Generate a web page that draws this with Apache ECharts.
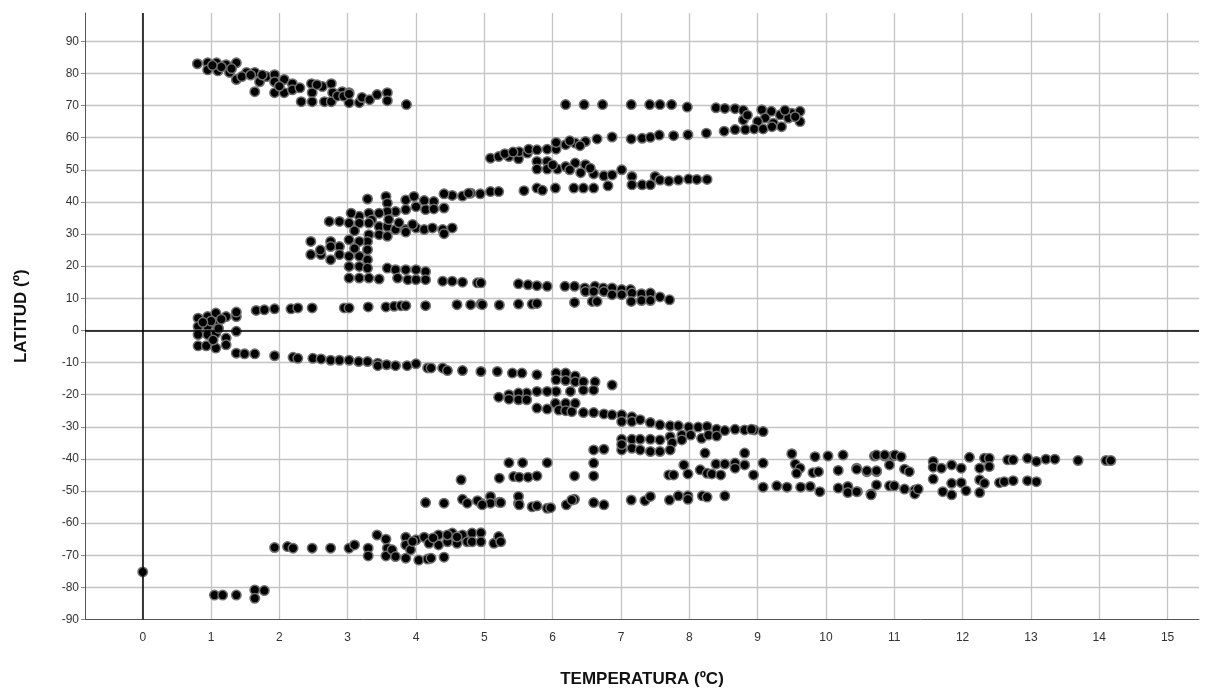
<!DOCTYPE html>
<html>
<head>
<meta charset="utf-8">
<script src="https://cdn.jsdelivr.net/npm/echarts@6/dist/echarts.min.js"></script>
<style>html,body{margin:0;padding:0;background:#fff}#c{width:1217px;height:690px}</style>
</head>
<body>
<div id="c"></div>
<script>
// [temperature (ºC), latitude (º)] pairs, grouped by visible band
const northPolar = [[0.80,83.0],[0.95,83.3],[0.95,81.1],[1.08,83.3],[1.10,80.8],[1.22,82.7],[1.27,80.3],[1.37,83.3],[1.37,78.1],[1.52,80.3],[1.64,80.3],[1.71,77.4],[1.64,74.3],[1.81,79.0],[1.93,79.6],[1.93,77.4],[1.93,74.0],[2.07,78.1],[2.07,74.0],[2.19,76.8],[2.19,74.9],[2.32,71.2],[2.47,76.8],[2.48,74.0],[2.48,71.2],[2.63,75.9],[2.76,76.8],[2.66,71.2],[2.76,71.2],[2.78,74.0],[2.92,74.3],[3.02,74.0],[3.02,70.9],[3.17,70.9],[3.21,72.5],[3.32,71.8],[3.43,73.4],[3.58,74.0],[3.58,71.5],[3.86,70.3],[1.15,82.0],[1.30,81.5],[1.45,79.0],[2.00,76.0],[2.55,76.5],[2.85,73.0],[1.75,79.5],[2.30,75.5],[1.02,82.5],[1.58,79.5],[2.94,72.9],[3.02,73.6]];
const north70 = [[6.19,70.3],[6.46,70.3],[6.73,70.3],[7.15,70.3],[7.42,70.3],[7.57,70.3],[7.74,70.3],[7.97,69.5],[8.39,69.3],[8.52,69.1],[8.67,69.0],[8.79,68.5],[8.79,65.5],[9.06,68.7],[9.20,68.2],[9.33,67.1],[9.50,67.6],[9.62,68.2],[9.62,65.0],[9.11,66.1],[9.23,64.5],[9.35,63.4],[9.00,65.0],[9.45,66.1],[8.85,67.0],[9.40,68.5],[9.55,66.5]];
const north55 = [[5.09,53.6],[5.21,54.1],[5.36,54.1],[5.50,53.4],[5.51,55.6],[5.63,55.2],[5.65,56.4],[5.77,56.2],[5.92,56.4],[6.05,56.4],[6.05,58.5],[6.19,57.8],[6.33,58.3],[6.48,58.8],[6.65,59.6],[6.87,60.2],[7.15,59.6],[7.31,59.8],[7.43,60.1],[7.56,60.8],[7.77,60.6],[7.98,60.9],[8.25,61.4],[8.51,62.0],[8.67,62.5],[8.82,62.5],[8.95,62.7],[9.08,62.7],[9.21,63.4],[5.30,55.0],[5.42,55.5],[6.25,59.0],[6.40,57.5]];
const north48 = [[5.77,52.6],[5.77,50.2],[5.92,52.6],[5.92,50.2],[6.07,50.2],[6.19,51.0],[6.33,52.1],[6.48,51.6],[6.41,49.1],[6.60,48.7],[6.75,48.1],[6.87,48.4],[7.01,50.0],[7.16,47.9],[7.16,45.3],[7.31,45.3],[7.43,45.3],[7.50,47.9],[7.57,46.8],[7.70,46.5],[7.84,46.8],[7.99,47.1],[8.11,47.0],[8.26,47.0],[6.00,51.5],[6.25,50.0],[6.55,50.5]];
const north40 = [[4.53,42.0],[4.68,41.8],[4.80,42.7],[4.94,42.5],[5.09,43.2],[5.21,43.2],[5.58,43.5],[5.77,44.3],[5.85,43.6],[6.04,44.3],[6.31,44.3],[6.45,44.3],[6.60,44.3],[6.81,45.0],[3.29,40.9],[3.56,41.7],[3.58,39.6],[3.85,40.6],[3.97,41.7],[4.00,38.5],[4.12,40.4],[4.14,37.6],[4.26,40.1],[4.26,37.8],[4.41,42.5],[4.41,38.1],[4.77,42.7],[3.85,37.6],[3.70,37.0],[3.58,37.0],[3.46,36.5],[3.31,36.5],[3.17,35.5],[3.05,36.5],[3.35,34.4]];
const north25 = [[3.02,33.4],[2.88,33.9],[2.73,33.9],[3.17,33.4],[3.31,33.4],[3.46,32.3],[3.58,32.3],[3.70,31.4],[3.85,31.4],[3.85,30.6],[4.00,31.9],[4.12,31.4],[4.24,31.9],[4.39,31.4],[4.53,31.9],[4.41,30.1],[3.46,29.8],[3.58,29.3],[3.31,29.8],[3.29,27.7],[3.29,25.1],[3.17,27.7],[3.02,28.2],[2.88,26.1],[2.75,27.7],[2.75,26.1],[2.46,27.7],[2.46,23.6],[2.61,23.6],[2.75,22.0],[2.88,23.6],[3.02,23.1],[3.02,19.9],[3.17,23.1],[3.17,19.9],[3.29,22.0],[3.29,19.4],[3.02,16.3],[3.17,16.3],[3.31,16.3],[3.46,16.0],[3.58,19.4],[3.70,18.9],[3.85,18.9],[4.00,18.9],[4.14,18.3],[3.73,16.3],[3.88,15.8],[4.00,15.8],[4.14,15.8],[4.39,15.3],[4.53,15.3],[4.68,15.0],[4.90,14.8],[3.10,31.0],[2.60,25.0],[3.10,25.5],[3.60,34.5],[3.75,33.5],[3.95,33.0]];
const north12 = [[4.95,14.8],[5.50,14.5],[5.64,14.2],[5.77,13.9],[5.92,13.7],[6.18,13.7],[6.32,13.7],[6.47,13.2],[6.62,13.7],[6.74,13.2],[6.87,13.2],[7.01,12.7],[7.14,12.7],[6.48,12.1],[6.60,12.1],[6.75,12.1],[6.87,11.1],[7.01,11.1],[7.16,11.6],[7.30,11.4],[7.43,11.6],[7.15,9.0],[7.30,9.3],[7.43,9.3],[7.57,10.4],[7.71,9.5]];
const north7 = [[4.95,8.2],[5.22,7.9],[5.50,8.2],[5.70,8.2],[5.77,8.4],[6.32,8.7],[6.58,9.0],[6.65,9.0],[1.66,6.2],[1.78,6.4],[1.93,6.7],[2.17,6.7],[2.27,7.0],[2.48,7.0],[2.95,7.0],[3.02,7.0],[3.30,7.3],[3.56,7.3],[3.68,7.5],[3.78,7.7],[3.85,7.7],[4.14,7.7],[4.60,8.0],[4.80,8.0],[4.97,8.0]];
const equator = [[0.81,3.8],[0.81,1.2],[0.81,-1.3],[0.81,-4.8],[0.95,4.3],[0.95,1.2],[0.95,-1.3],[0.93,-4.8],[1.07,5.4],[1.07,2.3],[1.07,-0.9],[1.07,-5.5],[1.22,4.3],[1.22,-2.4],[1.22,-4.5],[1.37,4.3],[1.37,5.7],[1.37,-0.3],[1.11,0.6],[1.00,2.9],[0.88,2.5],[1.15,3.5],[1.03,-3.0]];
const south10 = [[1.37,-7.1],[1.49,-7.3],[1.64,-7.3],[1.93,-7.9],[2.20,-8.4],[2.27,-8.7],[2.49,-8.7],[2.61,-8.9],[2.75,-9.3],[2.88,-9.3],[3.02,-9.3],[3.16,-9.7],[3.29,-9.7],[3.44,-10.2],[3.44,-11.0],[3.57,-10.7],[3.70,-11.0],[3.87,-11.0],[4.00,-10.4],[4.17,-11.7],[4.22,-11.7],[4.39,-11.7],[4.46,-12.5],[4.68,-12.5],[4.95,-12.8],[5.19,-12.8],[5.41,-13.3],[5.55,-13.3],[5.77,-13.8]];
const south25 = [[6.05,-13.3],[6.05,-15.4],[6.19,-13.3],[6.19,-15.6],[6.33,-14.2],[6.33,-16.0],[6.45,-16.0],[6.62,-16.0],[6.87,-17.0],[6.60,-18.6],[6.45,-18.6],[6.26,-19.0],[6.05,-19.0],[5.92,-19.0],[5.77,-19.0],[5.62,-19.5],[5.50,-19.5],[5.36,-20.0],[5.21,-20.8],[5.36,-21.4],[5.50,-21.6],[5.62,-21.6],[5.77,-24.2],[5.92,-24.5],[6.04,-22.7],[6.09,-24.8],[6.19,-22.7],[6.19,-25.0],[6.33,-22.7],[6.28,-25.3],[6.45,-25.6],[6.60,-25.6],[6.75,-26.0],[6.87,-26.3],[7.01,-26.3],[7.16,-26.9],[7.01,-28.4],[7.16,-28.4],[7.28,-27.8],[7.43,-28.7],[7.57,-29.4],[7.72,-29.7],[7.84,-29.7],[7.99,-30.1],[8.13,-30.1],[8.26,-29.9],[8.40,-30.8],[8.52,-31.2],[8.67,-30.8],[8.81,-31.0],[8.95,-31.0],[9.08,-31.5],[8.91,-30.8]];
const south35 = [[7.01,-33.9],[7.16,-33.9],[7.28,-33.9],[7.43,-33.9],[7.57,-34.1],[7.72,-33.1],[7.89,-32.6],[8.02,-32.6],[8.18,-33.6],[8.28,-32.6],[8.40,-32.9],[7.75,-35.0],[7.89,-34.1],[7.01,-37.2],[7.16,-36.7],[7.28,-37.2],[7.43,-37.7],[7.57,-37.7],[7.72,-37.2],[7.01,-35.5],[6.60,-37.2],[6.75,-37.0]];
const south45 = [[8.23,-38.2],[8.81,-38.2],[9.50,-38.4],[9.84,-39.3],[10.03,-39.1],[10.25,-38.8],[10.71,-39.1],[10.86,-39.1],[10.98,-39.1],[5.36,-41.2],[5.56,-41.2],[5.92,-41.2],[6.60,-41.3],[7.92,-41.9],[8.39,-41.6],[8.52,-41.6],[8.67,-41.3],[8.81,-41.9],[9.08,-41.3],[9.55,-41.6],[9.62,-42.9],[9.57,-44.5],[9.81,-44.3],[9.89,-44.0],[10.18,-43.6],[10.45,-42.9],[10.60,-44.0],[10.74,-44.0],[10.93,-41.9],[5.22,-46.0],[5.43,-45.5],[5.51,-45.7],[5.64,-45.7],[5.77,-45.3],[6.32,-45.3],[6.60,-45.3],[7.70,-45.0],[7.77,-45.0],[7.98,-44.7],[8.16,-43.4],[8.26,-44.5],[8.33,-44.7],[8.46,-45.0],[8.67,-42.9],[8.94,-45.0],[4.66,-46.5],[9.08,-48.8],[9.28,-48.4],[9.43,-48.8],[9.63,-48.8],[9.77,-48.6],[9.91,-50.2],[10.18,-49.1],[10.32,-48.6],[10.32,-50.5],[10.46,-50.2],[10.66,-50.9],[10.74,-48.1],[10.93,-48.4],[11.00,-48.4]];
const south40Warm = [[10.74,-38.8],[10.86,-38.8],[11.01,-38.8],[11.10,-39.3],[10.45,-43.2],[10.60,-43.7],[10.74,-43.7],[11.15,-43.2],[11.22,-44.0],[11.15,-49.4],[11.30,-49.7],[11.30,-50.9],[11.35,-49.4],[10.66,-51.2],[10.45,-50.2],[11.57,-40.8],[11.57,-42.6],[11.57,-46.3],[11.69,-42.9],[11.84,-41.9],[11.98,-42.9],[11.71,-50.2],[11.84,-51.2],[11.84,-47.6],[11.98,-47.4],[12.05,-49.9],[12.10,-39.5],[12.25,-42.9],[12.32,-39.8],[12.39,-39.8],[12.39,-42.4],[12.25,-46.5],[12.32,-47.6],[12.25,-50.5],[12.54,-47.4],[12.66,-40.3],[12.74,-40.3],[12.61,-47.1],[12.74,-46.8],[12.95,-39.8],[13.08,-40.8],[12.95,-46.8],[13.08,-47.1],[13.22,-40.1],[13.35,-40.1],[13.69,-40.5],[14.10,-40.5],[14.17,-40.5]];
const south53 = [[4.95,-53.8],[5.09,-51.7],[5.09,-53.8],[5.22,-53.5],[5.50,-53.8],[5.50,-51.7],[5.70,-54.9],[5.77,-54.6],[5.92,-55.4],[5.97,-55.2],[6.20,-54.3],[6.32,-52.6],[6.60,-53.6],[6.75,-54.3],[7.15,-52.8],[7.35,-53.0],[7.43,-51.7],[7.71,-52.8],[7.84,-51.5],[7.98,-51.5],[7.98,-52.6],[8.19,-51.5],[8.26,-51.9],[8.52,-51.5],[4.14,-53.6],[4.41,-53.8],[4.68,-52.6],[4.75,-53.8],[4.90,-53.0],[4.97,-54.3],[5.24,-53.6],[5.51,-54.3],[6.28,-52.8]];
const southPolar = [[1.93,-67.6],[2.12,-67.3],[2.20,-67.8],[2.48,-67.8],[2.75,-67.8],[3.02,-67.8],[3.10,-66.8],[3.30,-67.8],[3.30,-70.2],[3.43,-63.7],[3.56,-65.0],[3.58,-67.8],[3.56,-70.2],[3.65,-68.3],[3.70,-70.4],[3.85,-64.4],[3.85,-66.8],[3.85,-70.9],[3.92,-68.3],[4.00,-65.2],[4.04,-71.5],[4.12,-64.4],[4.17,-71.2],[4.22,-70.9],[4.19,-66.3],[4.33,-63.7],[4.33,-66.8],[4.41,-70.6],[4.46,-65.8],[4.53,-63.1],[4.60,-66.3],[4.68,-63.7],[4.75,-65.8],[4.82,-63.1],[4.82,-65.8],[4.95,-63.0],[4.95,-65.8],[5.14,-66.3],[5.21,-64.2],[5.24,-65.8],[4.46,-63.7],[3.95,-65.7],[4.25,-64.6],[4.60,-64.3]];
const antarctic = [[0.00,-75.2],[1.05,-82.4],[1.17,-82.4],[1.37,-82.4],[1.64,-80.8],[1.64,-83.4],[1.78,-81.0]];

const allPoints = [].concat(northPolar, north70, north55, north48, north40, north25, north12, north7,
  equator, south10, south25, south35, south45, south40Warm, south53, southPolar, antarctic);

const FONT = 'Liberation Sans, Arial, sans-serif';
const chart = echarts.init(document.getElementById('c'), null, {renderer: 'canvas'});
chart.setOption({
  animation: false,
  backgroundColor: '#fff',
  grid: {left: 85, right: 18, top: 13, bottom: 70.5, containLabel: false, outerBoundsMode: 'none'},
  xAxis: {
    type: 'value', min: -0.845, max: 15.46, splitNumber: 16,
    name: 'TEMPERATURA (ºC)', nameLocation: 'middle', nameGap: 51,
    nameTextStyle: {fontFamily: FONT, fontSize: 17, fontWeight: 'bold', color: '#111'},
    axisLine: {onZero: false, lineStyle: {color: '#555', width: 1}},
    axisTick: {show: false},
    axisLabel: {showMinLabel: false, showMaxLabel: false, margin: 12, fontFamily: FONT, fontSize: 12, color: '#333'},
    splitLine: {show: true, showMinLine: false, showMaxLine: false, lineStyle: {color: '#c4c4c4', width: 1.3}}
  },
  yAxis: {
    type: 'value', min: -90, max: 98.8, splitNumber: 19,
    name: 'LATITUD (º)', nameLocation: 'middle', nameGap: 55, nameRotate: 90,
    nameTextStyle: {fontFamily: FONT, fontSize: 17, fontWeight: 'bold', color: '#111'},
    axisLine: {show: true, onZero: false, lineStyle: {color: '#555', width: 1}},
    axisTick: {show: true, length: 4, lineStyle: {color: '#888'}},
    axisLabel: {showMaxLabel: false, margin: 6, fontFamily: FONT, fontSize: 12, color: '#333'},
    splitLine: {show: true, showMinLine: false, showMaxLine: false, lineStyle: {color: '#c4c4c4', width: 1.3}}
  },
  series: [{
    type: 'scatter',
    data: allPoints,
    symbol: 'circle',
    symbolSize: 9.5,
    itemStyle: {color: '#000', borderColor: '#707070', borderWidth: 1.5, opacity: 1},
    markLine: {
      silent: true, symbol: 'none', animation: false,
      label: {show: false},
      lineStyle: {color: '#000', type: 'solid', width: 1.5},
      data: [{xAxis: 0}, {yAxis: 0}]
    }
  }]
});
</script>
</body>
</html>
